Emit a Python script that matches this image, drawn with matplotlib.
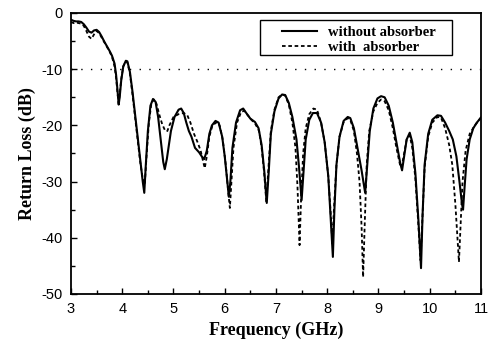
import matplotlib
matplotlib.use("Agg")
import matplotlib.pyplot as plt
from matplotlib.patches import Rectangle
from matplotlib.ticker import MultipleLocator

plt.rcParams["axes.unicode_minus"] = False

# without absorber (solid)
freq_wo = [3.00, 3.05, 3.10, 3.15, 3.20, 3.25, 3.30, 3.35, 3.40, 3.45, 3.50, 3.55, 3.60, 3.65,
           3.70, 3.75, 3.80, 3.85, 3.88, 3.91, 3.93, 3.95, 3.98, 4.02, 4.07, 4.10, 4.15, 4.20,
           4.25, 4.30, 4.35, 4.40, 4.43, 4.46, 4.50, 4.55, 4.60, 4.65, 4.70, 4.75, 4.80, 4.83,
           4.87, 4.95, 5.02, 5.10, 5.15, 5.20, 5.25, 5.30, 5.35, 5.42, 5.50, 5.55, 5.60, 5.65,
           5.70, 5.75, 5.82, 5.88, 5.95, 6.00, 6.05, 6.08, 6.11, 6.15, 6.22, 6.30, 6.36, 6.42,
           6.50, 6.59, 6.66, 6.72, 6.77, 6.82, 6.86, 6.90, 6.97, 7.05, 7.12, 7.18, 7.25, 7.32,
           7.40, 7.45, 7.50, 7.54, 7.58, 7.65, 7.72, 7.80, 7.88, 7.95, 8.02, 8.07, 8.11, 8.14,
           8.18, 8.24, 8.32, 8.40, 8.45, 8.52, 8.60, 8.67, 8.74, 8.78, 8.83, 8.90, 8.98, 9.05,
           9.12, 9.20, 9.28, 9.35, 9.42, 9.46, 9.50, 9.55, 9.61, 9.66, 9.72, 9.78, 9.83, 9.86,
           9.90, 9.97, 10.05, 10.15, 10.22, 10.30, 10.38, 10.45, 10.52, 10.58, 10.63, 10.65,
           10.68, 10.72, 10.78, 10.85, 10.92, 11.00]
rl_wo = [-1.2, -1.4, -1.5, -1.5, -1.6, -2.0, -2.6, -3.3, -3.5, -3.1, -3.0, -3.4, -4.2, -5.1,
         -5.9, -6.7, -7.6, -9.0, -11.0, -14.0, -16.3, -15.0, -12.0, -9.5, -8.5, -8.6, -10.5, -14.0,
         -18.0, -22.0, -26.0, -30.0, -32.0, -27.0, -21.0, -16.5, -15.3, -15.8, -18.5, -22.5, -26.5, -27.8,
         -26.0, -21.0, -18.5, -17.2, -17.0, -17.8, -19.5, -21.0, -22.0, -24.0, -24.8, -25.5, -26.0, -24.5,
         -21.5, -20.0, -19.2, -19.5, -22.0, -25.5, -30.0, -32.7, -30.0, -24.0, -19.5, -17.3, -17.0, -17.8,
         -18.8, -19.4, -20.5, -23.5, -28.0, -33.8, -28.0, -21.5, -17.5, -15.2, -14.5, -14.6, -16.0, -18.5,
         -22.5, -27.5, -33.3, -28.0, -22.5, -19.0, -17.8, -17.8, -19.5, -23.0, -29.0, -37.0, -43.4, -35.0,
         -27.0, -22.0, -19.2, -18.5, -18.7, -20.5, -24.5, -28.0, -32.0, -27.0, -21.0, -17.0, -15.2, -14.8,
         -15.0, -16.5, -19.5, -23.0, -26.5, -28.0, -25.5, -22.5, -21.3, -23.0, -28.5, -37.0, -45.4, -36.0,
         -27.0, -21.5, -19.0, -18.2, -18.3, -19.5, -21.0, -22.5, -25.5, -30.0, -34.0, -35.0,
         -31.0, -26.0, -22.5, -20.5, -19.5, -18.6]

# with absorber (dashed)
freq_w = [3.00, 3.05, 3.10, 3.15, 3.20, 3.25, 3.30, 3.35, 3.40, 3.45, 3.50, 3.55, 3.60, 3.65,
          3.70, 3.75, 3.80, 3.85, 3.88, 3.91, 3.93, 3.95, 3.98, 4.02, 4.07, 4.10, 4.15, 4.20,
          4.25, 4.30, 4.35, 4.40, 4.44, 4.47, 4.52, 4.57, 4.62, 4.67, 4.72, 4.78, 4.84, 4.88,
          4.92, 5.00, 5.10, 5.20, 5.27, 5.33, 5.40, 5.47, 5.53, 5.58, 5.61, 5.65, 5.70, 5.76,
          5.85, 5.90, 5.96, 6.02, 6.07, 6.10, 6.13, 6.17, 6.24, 6.32, 6.38, 6.45, 6.52, 6.60,
          6.67, 6.72, 6.77, 6.81, 6.85, 6.90, 6.97, 7.05, 7.12, 7.18, 7.25, 7.32, 7.38, 7.42,
          7.46, 7.49, 7.53, 7.58, 7.65, 7.73, 7.80, 7.88, 7.95, 8.02, 8.07, 8.10, 8.13, 8.18,
          8.24, 8.32, 8.40, 8.45, 8.52, 8.58, 8.63, 8.67, 8.70, 8.73, 8.77, 8.82, 8.90, 8.98,
          9.05, 9.12, 9.20, 9.28, 9.35, 9.42, 9.45, 9.50, 9.55, 9.61, 9.66, 9.72, 9.78, 9.82,
          9.86, 9.90, 9.97, 10.05, 10.15, 10.22, 10.30, 10.38, 10.44, 10.50, 10.54, 10.57,
          10.60, 10.64, 10.70, 10.78, 10.88, 10.95, 11.00]
rl_w = [-1.6, -1.8, -1.7, -1.8, -1.9, -2.3, -3.2, -4.2, -4.6, -3.8, -3.2, -3.6, -4.4, -5.2,
        -6.0, -6.8, -7.8, -9.5, -11.5, -14.5, -16.0, -14.5, -11.8, -9.5, -8.6, -8.8, -10.8, -14.5,
        -18.5, -22.5, -26.5, -29.5, -30.5, -26.0, -19.5, -16.0, -15.4, -16.2, -18.0, -19.8, -21.0, -21.0,
        -20.0, -18.5, -18.0, -17.8, -18.2, -19.5, -21.5, -23.0, -24.5, -26.5, -27.6, -25.5, -22.0, -20.0,
        -19.4, -20.0, -22.5, -27.0, -32.0, -34.7, -30.0, -24.0, -19.5, -17.6, -17.4, -18.2, -19.0, -19.8,
        -21.0, -24.0, -28.5, -33.5, -28.0, -21.0, -17.2, -15.0, -14.5, -14.7, -16.3, -19.5, -24.0, -31.0,
        -41.3, -33.0, -25.0, -20.5, -18.0, -17.0, -17.2, -19.5, -23.0, -29.0, -36.0, -41.0, -35.0, -27.0,
        -22.0, -19.4, -18.7, -19.0, -21.0, -25.0, -30.0, -38.0, -47.0, -38.0, -27.0, -21.0, -17.5, -16.0,
        -15.4, -15.7, -17.3, -20.5, -24.0, -27.0, -27.5, -25.0, -22.5, -21.8, -24.0, -29.5, -38.0, -44.0,
        -36.0, -27.5, -22.0, -19.5, -18.5, -18.6, -20.5, -23.5, -27.0, -34.0, -40.0, -44.3,
        -38.0, -30.0, -24.5, -21.5, -20.0, -19.2, -18.6]

x_ticks = [3, 4, 5, 6, 7, 8, 9, 10, 11]
y_ticks = [0, -10, -20, -30, -40, -50]

fig = plt.figure(figsize=(4.92, 3.40), dpi=100)
ax = fig.add_axes([0.1443, 0.1353, 0.8333, 0.8265])

ax.plot(freq_wo, rl_wo, color="black", linewidth=1.5, label="without absorber")
ax.plot(freq_w, rl_w, color="black", linewidth=1.3, linestyle=(0, (2, 1.5)), label="with  absorber")
ax.axhline(-10, color="black", linewidth=1.0, linestyle=(0, (1, 6)))

ax.set_xlim(3, 11)
ax.set_ylim(-50, 0)
ax.set_xticks(x_ticks)
ax.set_yticks(y_ticks)
ax.xaxis.set_minor_locator(MultipleLocator(0.5))
ax.yaxis.set_minor_locator(MultipleLocator(5))
ax.tick_params(which="both", direction="in", top=False, right=False, width=1)
ax.tick_params(which="major", length=4, labelsize=10.5, pad=6)
ax.tick_params(which="minor", length=3)
for lab in ax.get_xticklabels() + ax.get_yticklabels():
    lab.set_fontfamily("Liberation Sans")
for sp in ax.spines.values():
    sp.set_linewidth(1.3)

ax.set_xlabel("Frequency (GHz)", fontfamily="Liberation Serif", fontweight="bold", fontsize=13)
ax.set_ylabel("Return Loss (dB)", fontfamily="Liberation Serif", fontweight="bold", fontsize=13,
              labelpad=4)

# legend box drawn separately so padding matches the original
leg = ax.legend(loc="upper left", bbox_to_anchor=(0.515, 0.953), frameon=False,
                prop={"family": "Liberation Serif", "weight": "bold", "size": 10.5},
                handlelength=2.4, borderpad=0, labelspacing=0.07, handletextpad=0.75,
                borderaxespad=0)
ax.add_patch(Rectangle((0.461, 0.849), 0.468, 0.126, transform=ax.transAxes,
                       fill=False, edgecolor="black", linewidth=1.0, zorder=5))

fig.savefig("out.png", dpi=100)
